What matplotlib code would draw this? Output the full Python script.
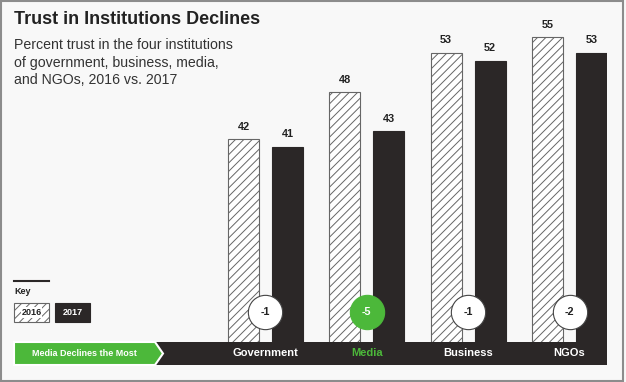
import matplotlib
matplotlib.use("Agg")
import matplotlib.pyplot as plt
import numpy as np
from matplotlib.patches import Rectangle, Polygon
from matplotlib import transforms

categories = ["Government", "Media", "Business", "NGOs"]
trust_2016 = [42, 48, 53, 55]
trust_2017 = [41, 43, 52, 53]
changes = [-1, -5, -1, -2]
highlight = "Media"

W, H = 626, 382
plt.rcParams['font.family'] = ['Liberation Sans', 'DejaVu Sans']
plt.rcParams['hatch.color'] = "#555555"
plt.rcParams['hatch.linewidth'] = 0.7

fig = plt.figure(figsize=(W / 100, H / 100), dpi=100)
BG = "#f8f8f8"
DARK = "#2b2727"
GREEN = "#4cb83a"
fig.patch.set_facecolor(BG)

def fx(px):
    return px / W

def fy(py):
    return (H - py) / H

# axes for bars: x pixels 155..607, y pixels 20..365
ax = fig.add_axes([fx(155), fy(365), fx(607) - fx(155), fy(20) - fy(365)])
ax.set_facecolor("none")
ax.set_xlim(-1.09, 3.37)
ax.set_ylim(13.17, 57.2)
ax.axis("off")

x = np.arange(len(categories))
off, bw = 0.217, 0.305
ax.bar(x - off, trust_2016, bw, color="white", edgecolor="#666666",
       hatch="////", linewidth=0.8, zorder=2)
ax.bar(x + off, trust_2017, bw, color=DARK, edgecolor=DARK, linewidth=0.8, zorder=2)

for xi, v in zip(x - off, trust_2016):
    ax.annotate(str(v), (xi, v), xytext=(0, 9), textcoords="offset points",
                ha="center", va="center", fontsize=7.8, fontweight="bold", color="#222222")
for xi, v in zip(x + off, trust_2017):
    ax.annotate(str(v), (xi, v), xytext=(0, 9), textcoords="offset points",
                ha="center", va="center", fontsize=7.8, fontweight="bold", color="#222222")

bt = transforms.blended_transform_factory(ax.transData, fig.transFigure)

# dark band
fig.add_artist(Rectangle((fx(150), fy(365)), fx(607) - fx(150), fy(342) - fy(365),
                         transform=fig.transFigure, facecolor=DARK, edgecolor="none", zorder=5))

# circles with changes
for xi, c, cat in zip(x, changes, categories):
    hl = cat == highlight
    ax.scatter([xi], [fy(312)], s=610, transform=bt,
               facecolor=GREEN if hl else "white",
               edgecolor=GREEN if hl else "#444444", linewidth=0.8, zorder=6, clip_on=False)
    ax.text(xi, fy(312), str(c), transform=bt, ha="center", va="center",
            fontsize=7.8, fontweight="bold", color="white" if hl else "#222222", zorder=7)

# category labels (figure level so they sit above the band)
for xi, cat in zip(x, categories):
    hl = cat == highlight
    t = fig.text(0, 0, cat, ha="center", va="center",
                 fontsize=8, fontweight="bold", color=GREEN if hl else "white", zorder=8)
    t.set_transform(bt)
    t.set_position((xi, fy(353.5)))

# green arrow
arrow = Polygon([(fx(14), fy(342)), (fx(155), fy(342)), (fx(163), fy(353.5)),
                 (fx(155), fy(365)), (fx(14), fy(365))], closed=True,
                transform=fig.transFigure, facecolor=GREEN, edgecolor="white",
                linewidth=1.5, zorder=6)
fig.add_artist(arrow)
fig.text(fx(84), fy(353.5), "Media Declines the Most", ha="center", va="center",
         fontsize=6.5, fontweight="bold", color="white", zorder=8)

# title and subtitle
fig.text(fx(14), fy(20), "Trust in Institutions Declines", ha="left", va="center",
         fontsize=13, fontweight="bold", color="#222222")
sub = ["Percent trust in the four institutions",
       "of government, business, media,",
       "and NGOs, 2016 vs. 2017"]
for i, line in enumerate(sub):
    fig.text(fx(14), fy(45 + i * 17.5), line, ha="left", va="center",
             fontsize=10.2, color="#333333")

# key
fig.add_artist(plt.Line2D([fx(14), fx(49)], [fy(281), fy(281)], color=DARK, lw=1.5,
                          transform=fig.transFigure))
fig.text(fx(14), fy(291), "Key", ha="left", va="center", fontsize=6.5,
         fontweight="bold", color="#222222")
fig.add_artist(Rectangle((fx(14), fy(322)), fx(35), fy(303) - fy(322), transform=fig.transFigure,
                         facecolor="white", edgecolor="#666666", hatch="////", linewidth=0.8))
fig.text(fx(31.5), fy(312.5), "2016", ha="center", va="center", fontsize=6.5,
         fontweight="bold", color="#222222",
         bbox=dict(facecolor="white", edgecolor="none", pad=0.5))
fig.add_artist(Rectangle((fx(55), fy(322)), fx(35), fy(303) - fy(322), transform=fig.transFigure,
                         facecolor=DARK, edgecolor=DARK, linewidth=0.8))
fig.text(fx(72.5), fy(312.5), "2017", ha="center", va="center", fontsize=6.5,
         fontweight="bold", color="white")

# border
fig.add_artist(Rectangle((fx(0.8), fy(380.5)), fx(623) - fx(0.8), fy(0.8) - fy(380.5),
                         transform=fig.transFigure, facecolor="none",
                         edgecolor="#8c8c8c", linewidth=1.5, zorder=10))

fig.savefig("out.png", dpi=100, facecolor=BG)
